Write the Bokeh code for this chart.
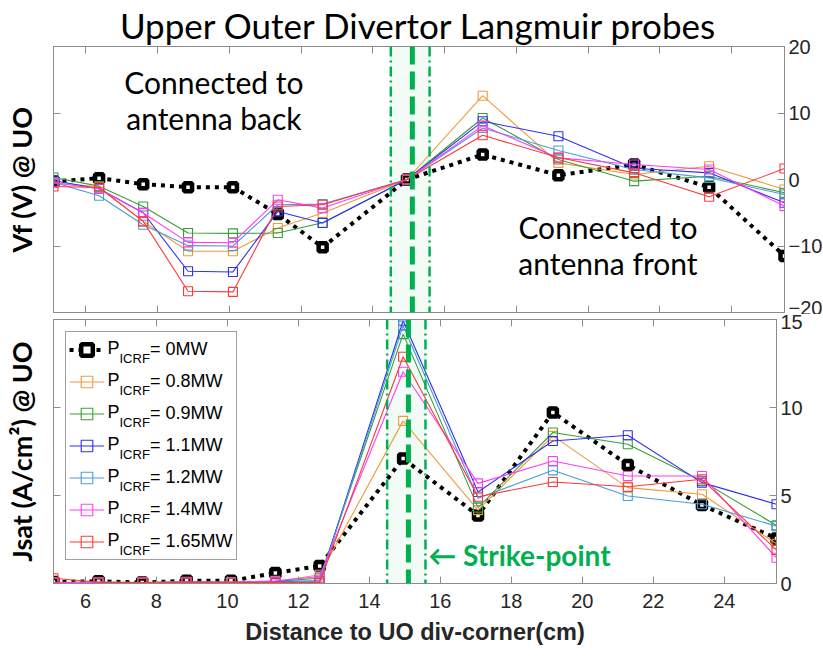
from bokeh.plotting import figure
from bokeh.models import (LinearAxis, Range1d, BoxAnnotation, Span, Label,
                          Legend, LegendItem, FixedTicker)
from bokeh.layouts import column
from bokeh.embed import file_html
from bokeh.resources import INLINE

# Probe positions along the divertor (cm from the UO corner)
distance = [5.1, 6.37, 7.6, 8.85, 10.1, 11.35, 12.6, 14.95, 17.06, 19.17, 21.28, 23.37, 25.47]

power_labels = ["0MW", "0.8MW", "0.9MW", "1.1MW", "1.2MW", "1.4MW", "1.65MW"]
colors = ["black", "#EE9A3A", "#3A9E3A", "#3030F0", "#4C9CD4", "#FF3CFF", "#FF3838"]

# Floating potential Vf (V)
vf_0p0 = [-0.3, 0.2, -0.7, -1.15, -1.15, -5.2, -10.2, 0.0, 3.75, 0.65, 2.25, -1.15, -11.5]
vf_0p8 = [-0.5, -1.1, -6.3, -10.8, -10.8, -7.3, -5.05, 0.0, 12.6, 2.5, 0.75, 2.0, -1.5]
vf_0p9 = [0.3, -1.0, -4.05, -8.05, -8.1, -8.05, -6.5, 0.0, 9.25, 3.0, -0.25, 0.5, -2.0]
vf_1p1 = [-0.15, -1.4, -5.0, -13.8, -13.9, -4.8, -6.55, 0.0, 8.75, 6.5, 1.7, 1.0, -3.5]
vf_1p2 = [-0.4, -2.45, -6.8, -9.95, -10.0, -3.8, -3.7, 0.0, 7.75, 4.35, 1.5, 0.25, -2.25]
vf_1p4 = [-0.5, -1.4, -5.05, -9.45, -9.5, -3.05, -4.3, 0.0, 8.1, 3.25, 2.25, 1.5, -4.0]
vf_1p65 = [-1.05, -1.2, -6.3, -16.8, -16.9, -4.05, -3.8, 0.0, 6.65, 3.3, 1.0, -2.6, 1.65]
vf_series = [vf_0p0, vf_0p8, vf_0p9, vf_1p1, vf_1p2, vf_1p4, vf_1p65]

# Ion saturation current density Jsat (A/cm^2)
js_0p0 = [0.08, 0.13, 0.05, 0.15, 0.15, 0.6, 1.0, 7.1, 3.87, 9.72, 6.74, 4.46, 2.56]
js_0p8 = [0.05, 0.08, 0.05, 0.1, 0.08, 0.1, 0.5, 9.24, 4.17, 8.39, 5.45, 5.07, 2.26]
js_0p9 = [0.05, 0.07, 0.05, 0.08, 0.07, 0.12, 0.3, 14.17, 4.31, 8.58, 7.91, 5.83, 3.3]
js_1p1 = [0.04, 0.06, 0.04, 0.07, 0.06, 0.1, 0.15, 14.93, 5.2, 8.1, 8.42, 5.73, 4.5]
js_1p2 = [0.04, 0.06, 0.04, 0.06, 0.05, 0.08, 0.12, 14.65, 4.84, 6.43, 4.97, 4.5, 3.26]
js_1p4 = [0.05, 0.07, 0.05, 0.08, 0.07, 0.15, 0.4, 12.03, 5.69, 6.96, 6.11, 6.11, 1.46]
js_1p65 = [0.3, 0.07, 0.05, 0.07, 0.06, 0.05, 0.05, 12.88, 4.93, 5.77, 5.5, 5.92, 1.9]
js_series = [js_0p0, js_0p8, js_0p9, js_1p1, js_1p2, js_1p4, js_1p65]

x_ticks = [6, 8, 10, 12, 14, 16, 18, 20, 22, 24]
vf_ticks = [-20, -10, 0, 10, 20]
js_ticks = [0, 5, 10, 15]

# Strike-point band (cm)
sp_left, sp_center, sp_right = 14.5, 15.1, 15.58

FRAME = "#8C8C8C"
TICK_TXT = "#262626"
GREEN = "#00B050"
TXT_FONT = "Lato"
NUM_FONT = "Liberation Sans"


def style_axis(ax, labels=True):
    ax.axis_line_color = FRAME
    ax.major_tick_line_color = FRAME
    ax.major_tick_in = 7
    ax.major_tick_out = 0
    ax.minor_tick_line_color = None
    ax.major_label_text_font = NUM_FONT
    if labels:
        ax.major_label_text_color = TICK_TXT
        ax.major_label_text_font_size = "20px"
        ax.major_label_standoff = 4
    else:
        # tick marks only
        ax.major_label_text_color = None
        ax.major_label_text_font_size = "1px"
        ax.major_label_standoff = 0


def add_strike_point(p):
    p.add_layout(BoxAnnotation(left=sp_left, right=sp_right, fill_color=GREEN,
                               fill_alpha=0.05, line_color=None, level="underlay"))
    for loc in (sp_left, sp_right):
        p.add_layout(Span(location=loc, dimension="height", line_color=GREEN,
                          line_width=2.5, line_dash="10 4 2 4"))
    p.add_layout(Span(location=sp_center, dimension="height", line_color=GREEN,
                      line_width=5, line_dash="18 7"))


def draw_series(p, series):
    items = []
    for i, ys in enumerate(series):
        if i == 0:
            ln = p.line(distance, ys, line_color="black", line_width=4,
                        line_dash="4 5", line_cap="butt")
            mk = p.scatter(distance, ys, marker="square", size=8,
                           line_color="black", line_width=4.5, fill_color="white")
        else:
            ln = p.line(distance, ys, line_color=colors[i], line_width=1.1)
            mk = p.scatter(distance, ys, marker="square", size=9,
                           line_color=colors[i], line_width=1.1, fill_color=None)
        items.append(LegendItem(label="= " + power_labels[i], renderers=[ln, mk]))
    return items


def base_figure(fw, fh, y_range, ticks, ylabel, **borders):
    p = figure(frame_width=fw, frame_height=fh,
               x_range=Range1d(distance[0], distance[-1]), y_range=y_range,
               x_axis_location=None, y_axis_location="right",
               output_backend="svg", toolbar_location=None, **borders)
    p.grid.visible = False
    p.outline_line_color = FRAME
    p.background_fill_color = "white"
    p.border_fill_color = "white"
    p.yaxis.ticker = FixedTicker(ticks=ticks)
    style_axis(p.yaxis[0], True)

    left = LinearAxis(ticker=FixedTicker(ticks=ticks), axis_label=ylabel)
    style_axis(left, False)
    left.axis_label_text_font = TXT_FONT
    left.axis_label_text_font_style = "bold"
    left.axis_label_text_font_size = "27px"
    left.axis_label_text_color = "black"
    left.axis_label_standoff = 16
    p.add_layout(left, "left")

    top_ax = LinearAxis(ticker=FixedTicker(ticks=x_ticks))
    style_axis(top_ax, False)
    p.add_layout(top_ax, "above")

    bottom_ax = LinearAxis(ticker=FixedTicker(ticks=x_ticks))
    style_axis(bottom_ax, False)
    p.add_layout(bottom_ax, "below")
    return p, bottom_ax


# ---- upper panel: floating potential ----
top, _ = base_figure(731, 266, Range1d(-20, 20), vf_ticks, "Vf (V) @ UO",
                     min_border_left=51, min_border_right=41,
                     min_border_top=0, min_border_bottom=2)
top.title.text = "Upper Outer Divertor Langmuir probes"
top.title.text_font = TXT_FONT
top.title.text_font_style = "normal"
top.title.text_font_size = "35px"
top.title.align = "center"
top.title.text_color = "black"
top.title.text_line_height = 0.8
top.title.standoff = 2

add_strike_point(top)
draw_series(top, vf_series)

top.add_layout(Label(x=9.57, y=11.9, text="Connected to\nantenna back",
                     text_align="center", text_baseline="middle",
                     text_font=TXT_FONT, text_font_size="30px",
                     text_line_height=1.0, text_color="black"))
top.add_layout(Label(x=20.55, y=-9.85, text="Connected to\nantenna front",
                     text_align="center", text_baseline="middle",
                     text_font=TXT_FONT, text_font_size="30px",
                     text_line_height=1.0, text_color="black"))

# ---- lower panel: ion saturation current ----
FW_BOT, FH_BOT = 723, 264
bot, xb = base_figure(FW_BOT, FH_BOT, Range1d(0, 15), js_ticks, "Jsat (A/cm²) @ UO",
                      min_border_left=53, min_border_right=47,
                      min_border_top=5, min_border_bottom=66)
style_axis(xb, True)
xb.major_label_text_font_size = "20px"
xb.major_label_standoff = 10
xb.axis_label = "Distance to UO div-corner(cm)"
xb.axis_label_text_font = NUM_FONT
xb.axis_label_text_font_style = "bold"
xb.axis_label_text_font_size = "23.5px"
xb.axis_label_text_color = "#262626"
xb.axis_label_standoff = 8

add_strike_point(bot)
items = draw_series(bot, js_series)

legend = Legend(items=items, location="top_left", margin=12, padding=3,
                spacing=3, glyph_width=35, glyph_height=29, label_height=29,
                label_standoff=46, label_text_font=NUM_FONT,
                label_text_font_size="18px", label_text_color="black",
                border_line_color="#404040", border_line_width=1,
                background_fill_color="white", background_fill_alpha=0)
bot.add_layout(legend)

# subscripted "P_ICRF" in front of each legend entry, placed through the
# panel's own scales from pixel offsets inside the legend box
x_per_px = (distance[-1] - distance[0]) / FW_BOT
y_per_px = 15.0 / FH_BOT
for i in range(len(power_labels)):
    row_off = 12 + 3 + 14.5 + 32 * i          # row centre below frame top (px)
    bot.add_layout(Label(x=distance[0] + 54 * x_per_px,
                         y=15.0 - (row_off - 1) * y_per_px,
                         text="P", text_font=NUM_FONT, text_font_size="18px",
                         text_baseline="middle", text_color="black",
                         level="overlay"))
    bot.add_layout(Label(x=distance[0] + 66 * x_per_px,
                         y=15.0 - (row_off + 9) * y_per_px,
                         text="ICRF", text_font=NUM_FONT, text_font_size="13px",
                         text_baseline="middle", text_color="black",
                         level="overlay"))

bot.add_layout(Label(x=15.66, y=1.6, text="\u2190 Strike-point", text_align="left",
                     text_baseline="middle", text_font=TXT_FONT,
                     text_font_style="bold", text_font_size="28px", text_color=GREEN))

layout = column(top, bot, spacing=0)
open("out.html", "w").write(file_html(layout, INLINE))
